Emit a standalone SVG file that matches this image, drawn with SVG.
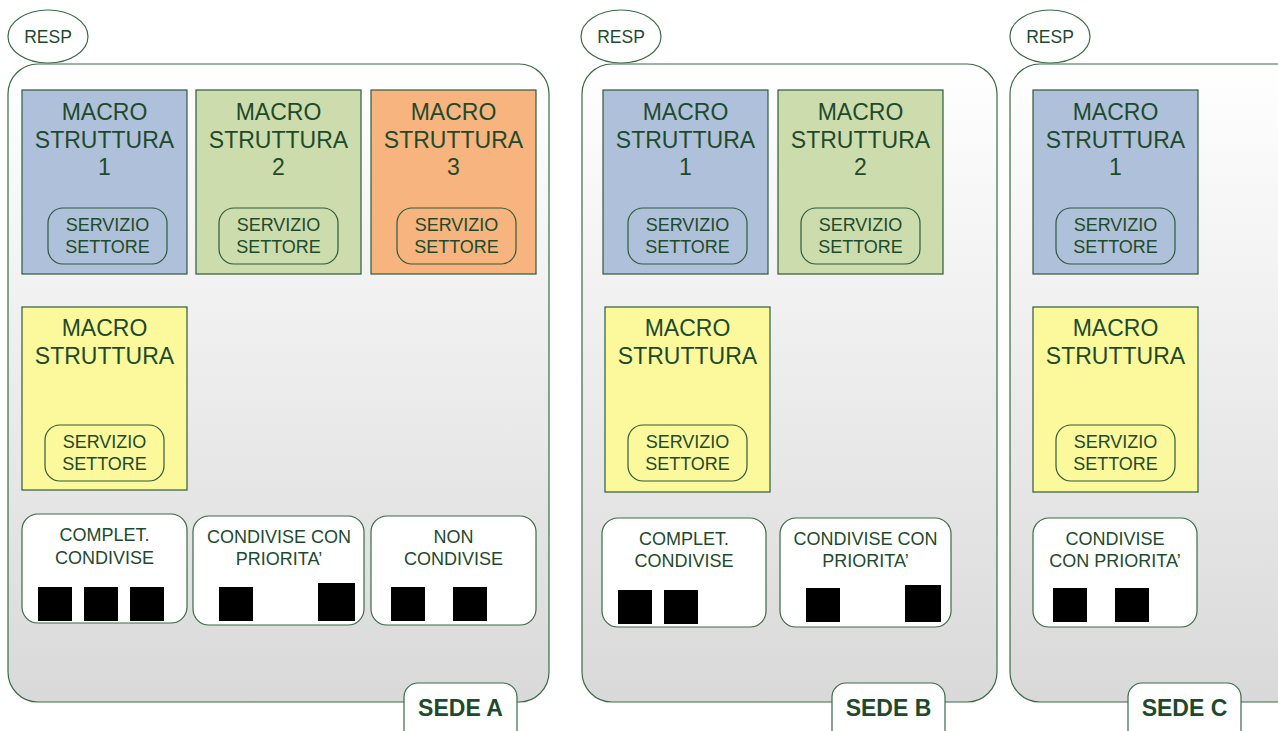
<svg xmlns="http://www.w3.org/2000/svg" width="1278" height="731" viewBox="0 0 1278 731">
<defs>
<linearGradient id="bg" x1="0" y1="0" x2="0" y2="1">
<stop offset="0" stop-color="#ffffff"/>
<stop offset="1" stop-color="#d9d9d9"/>
</linearGradient>
<style>
.sede{fill:url(#bg);stroke:#3a6a48;stroke-width:1.2}
.resp{fill:#ffffff;stroke:#3a6a48;stroke-width:1.2}
.box{stroke:#2f5a3c;stroke-width:1.2}
.blue{fill:#afc1da}
.green{fill:#cddcac}
.orange{fill:#f7b47e}
.yellow{fill:#fbf99b}
.serv{fill:none;stroke:#2f5a3c;stroke-width:1.2}
.wbox{fill:#ffffff;stroke:#3a6a48;stroke-width:1.2}
.sq{fill:#000000}
text{font-family:"Liberation Sans",Arial,sans-serif;fill:#1e4a2c;text-anchor:middle}
.t22{font-size:23px}
.t17{font-size:18px}
.t18{font-size:18px}
.t16{font-size:17.5px}
.lab{font-size:23px;font-weight:bold}
</style>
</defs>

<g id="sedeA">
<rect class="sede" x="8" y="64" width="541" height="638" rx="30"/>
<rect class="wbox" x="404" y="683" width="113" height="62" rx="14"/>
<text class="lab" x="460.5" y="716">SEDE A</text>
</g>
<g id="sedeB">
<rect class="sede" x="582" y="64" width="415" height="638" rx="30"/>
<rect class="wbox" x="832" y="683" width="113" height="62" rx="14"/>
<text class="lab" x="888.5" y="716">SEDE B</text>
</g>
<g id="sedeC">
<rect class="sede" x="1010" y="64" width="300" height="638" rx="30"/>
<rect class="wbox" x="1128" y="683" width="113" height="62" rx="14"/>
<text class="lab" x="1184.5" y="716">SEDE C</text>
</g>

<g id="respA"><ellipse class="resp" cx="48" cy="36.5" rx="40" ry="26.5"/><text class="t16" x="48" y="42.5">RESP</text></g>
<g id="respB"><ellipse class="resp" cx="621" cy="36.5" rx="40" ry="26.5"/><text class="t16" x="621" y="42.5">RESP</text></g>
<g id="respC"><ellipse class="resp" cx="1050" cy="36.5" rx="40" ry="26.5"/><text class="t16" x="1050" y="42.5">RESP</text></g>

<!-- Sede A macro -->
<g id="A-m1">
<rect class="box blue" x="22" y="90" width="165" height="184"/>
<text class="t22" x="104.5" y="120">MACRO</text><text class="t22" x="104.5" y="148">STRUTTURA</text><text class="t22" x="104.5" y="175">1</text>
<rect class="serv" x="48" y="208" width="119" height="56" rx="15"/>
<text class="t17" x="107.5" y="231">SERVIZIO</text><text class="t17" x="107.5" y="253">SETTORE</text>
</g>
<g id="A-m2">
<rect class="box green" x="196" y="90" width="165" height="184"/>
<text class="t22" x="278.5" y="120">MACRO</text><text class="t22" x="278.5" y="148">STRUTTURA</text><text class="t22" x="278.5" y="175">2</text>
<rect class="serv" x="219" y="208" width="119" height="56" rx="15"/>
<text class="t17" x="278.5" y="231">SERVIZIO</text><text class="t17" x="278.5" y="253">SETTORE</text>
</g>
<g id="A-m3">
<rect class="box orange" x="371" y="90" width="165" height="184"/>
<text class="t22" x="453.5" y="120">MACRO</text><text class="t22" x="453.5" y="148">STRUTTURA</text><text class="t22" x="453.5" y="175">3</text>
<rect class="serv" x="397" y="208" width="119" height="56" rx="15"/>
<text class="t17" x="456.5" y="231">SERVIZIO</text><text class="t17" x="456.5" y="253">SETTORE</text>
</g>
<g id="A-m4">
<rect class="box yellow" x="22" y="307" width="165" height="183"/>
<text class="t22" x="104.5" y="336">MACRO</text><text class="t22" x="104.5" y="364">STRUTTURA</text>
<rect class="serv" x="45" y="425" width="119" height="56" rx="15"/>
<text class="t17" x="104.5" y="448">SERVIZIO</text><text class="t17" x="104.5" y="470">SETTORE</text>
</g>

<!-- Sede B macro -->
<g id="B-m1">
<rect class="box blue" x="603" y="90" width="165" height="184"/>
<text class="t22" x="685.5" y="120">MACRO</text><text class="t22" x="685.5" y="148">STRUTTURA</text><text class="t22" x="685.5" y="175">1</text>
<rect class="serv" x="628" y="208" width="119" height="56" rx="15"/>
<text class="t17" x="687.5" y="231">SERVIZIO</text><text class="t17" x="687.5" y="253">SETTORE</text>
</g>
<g id="B-m2">
<rect class="box green" x="778" y="90" width="165" height="184"/>
<text class="t22" x="860.5" y="120">MACRO</text><text class="t22" x="860.5" y="148">STRUTTURA</text><text class="t22" x="860.5" y="175">2</text>
<rect class="serv" x="801" y="208" width="119" height="56" rx="15"/>
<text class="t17" x="860.5" y="231">SERVIZIO</text><text class="t17" x="860.5" y="253">SETTORE</text>
</g>
<g id="B-m4">
<rect class="box yellow" x="605" y="307" width="165" height="185"/>
<text class="t22" x="687.5" y="336">MACRO</text><text class="t22" x="687.5" y="364">STRUTTURA</text>
<rect class="serv" x="628" y="425" width="119" height="56" rx="15"/>
<text class="t17" x="687.5" y="448">SERVIZIO</text><text class="t17" x="687.5" y="470">SETTORE</text>
</g>

<!-- Sede C macro -->
<g id="C-m1">
<rect class="box blue" x="1033" y="90" width="165" height="184"/>
<text class="t22" x="1115.5" y="120">MACRO</text><text class="t22" x="1115.5" y="148">STRUTTURA</text><text class="t22" x="1115.5" y="175">1</text>
<rect class="serv" x="1056" y="208" width="119" height="56" rx="15"/>
<text class="t17" x="1115.5" y="231">SERVIZIO</text><text class="t17" x="1115.5" y="253">SETTORE</text>
</g>
<g id="C-m4">
<rect class="box yellow" x="1033" y="307" width="165" height="185"/>
<text class="t22" x="1115.5" y="336">MACRO</text><text class="t22" x="1115.5" y="364">STRUTTURA</text>
<rect class="serv" x="1056" y="425" width="119" height="56" rx="15"/>
<text class="t17" x="1115.5" y="448">SERVIZIO</text><text class="t17" x="1115.5" y="470">SETTORE</text>
</g>

<!-- Sede A bottom -->
<g id="A-compl">
<rect class="wbox" x="22" y="514" width="165" height="109" rx="16"/>
<text class="t18" x="104.5" y="541">COMPLET.</text><text class="t18" x="104.5" y="564">CONDIVISE</text>
<rect class="sq" x="38" y="587" width="34" height="34"/><rect class="sq" x="84" y="587" width="34" height="34"/><rect class="sq" x="130" y="587" width="34" height="34"/>
</g>
<g id="A-cond">
<rect class="wbox" x="193" y="516" width="171" height="109" rx="16"/>
<text class="t18" x="279" y="543">CONDIVISE CON</text><text class="t18" x="279" y="565">PRIORITA’</text>
<rect class="sq" x="219" y="587" width="34" height="34"/><rect class="sq" x="318" y="583" width="37" height="38"/>
</g>
<g id="A-non">
<rect class="wbox" x="371" y="516" width="165" height="109" rx="16"/>
<text class="t18" x="453.5" y="543">NON</text><text class="t18" x="453.5" y="565">CONDIVISE</text>
<rect class="sq" x="391" y="587" width="34" height="34"/><rect class="sq" x="453" y="587" width="34" height="34"/>
</g>

<!-- Sede B bottom -->
<g id="B-compl">
<rect class="wbox" x="602" y="518" width="164" height="109" rx="16"/>
<text class="t18" x="684" y="545">COMPLET.</text><text class="t18" x="684" y="567">CONDIVISE</text>
<rect class="sq" x="618" y="590" width="34" height="34"/><rect class="sq" x="664" y="590" width="34" height="34"/>
</g>
<g id="B-cond">
<rect class="wbox" x="780" y="518" width="171" height="109" rx="16"/>
<text class="t18" x="865.5" y="545">CONDIVISE CON</text><text class="t18" x="865.5" y="567">PRIORITA’</text>
<rect class="sq" x="806" y="588" width="34" height="34"/><rect class="sq" x="905" y="585" width="36" height="37"/>
</g>

<!-- Sede C bottom -->
<g id="C-cond">
<rect class="wbox" x="1033" y="518" width="164" height="109" rx="16"/>
<text class="t18" x="1115" y="545">CONDIVISE</text><text class="t18" x="1115" y="567">CON PRIORITA’</text>
<rect class="sq" x="1053" y="588" width="34" height="34"/><rect class="sq" x="1115" y="588" width="34" height="34"/>
</g>

<g id="connectors"/>
</svg>
